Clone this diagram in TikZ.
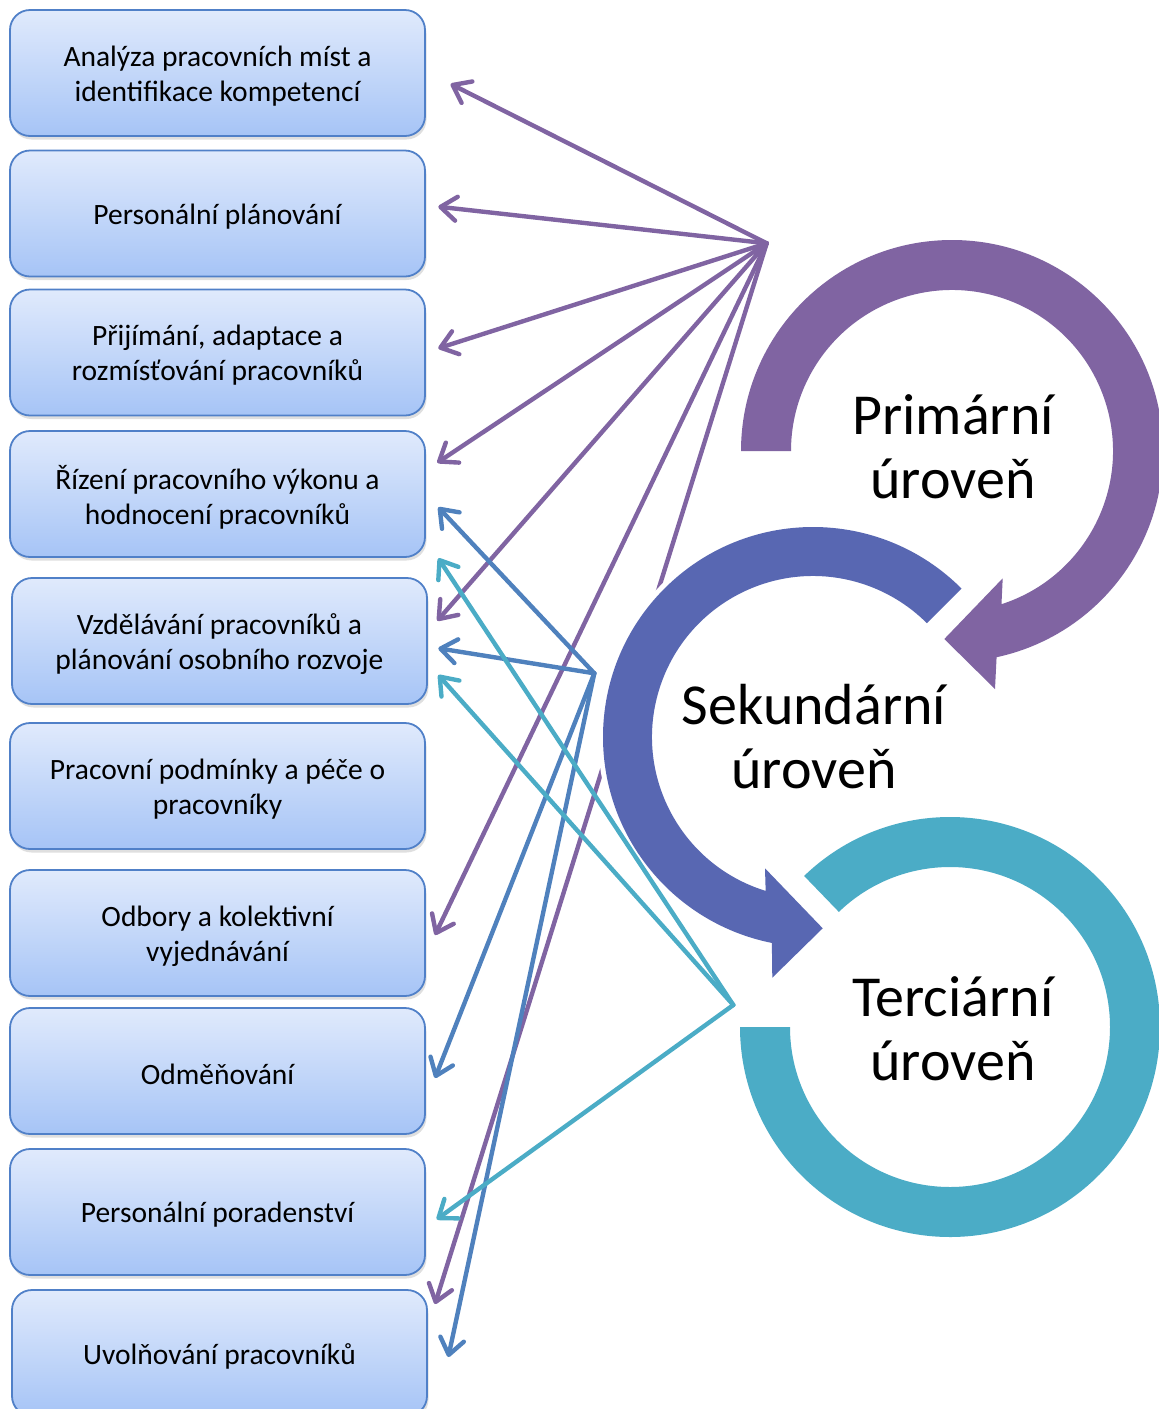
\documentclass[tikz,border=0pt]{standalone}
\usepackage{fontspec}
\setmainfont{Carlito}
\usetikzlibrary{arrows.meta,shadows,calc}
\definecolor{purp}{RGB}{128,100,162}
\definecolor{blu}{RGB}{79,129,189}
\definecolor{cya}{RGB}{75,172,198}
\definecolor{ringblue}{RGB}{88,103,178}
\definecolor{boxtop}{RGB}{224,234,252}
\definecolor{boxbot}{RGB}{166,196,246}
\definecolor{boxline}{RGB}{80,128,200}
\begin{document}
\begin{tikzpicture}[x=1pt,y=1pt,
  hrbox/.style={draw=boxline, line width=1.8pt, rounded corners=20pt,
    top color=boxtop, bottom color=boxbot, minimum width=415pt,
    minimum height=126pt, inner sep=0pt,
    drop shadow={shadow xshift=1.5pt, shadow yshift=-3.5pt, opacity=0.25}},
  boxtext/.style={align=center, inner sep=0pt, font=\fontsize{29.5}{35}\selectfont},
  conn/.style={line width=4.4pt, line cap=round,
    -{Straight Barb[length=16pt,width=24pt,round]}},
  ringtext/.style={align=center, font=\fontsize{58}{64}\selectfont},
  halo/.style={preaction={draw=white, line width=10pt}}
]
\useasboundingbox (0,0) rectangle (1159,-1409);
\clip (0,0) rectangle (1159,-1409);

% boxes
\node[hrbox] (b1) at (217.5,-73) {};
\node[hrbox] (b2) at (217.5,-213.5) {};
\node[hrbox] (b3) at (217.5,-352.5) {};
\node[hrbox] (b4) at (217.5,-494) {};
\node[hrbox] (b5) at (219.5,-641) {};
\node[hrbox] (b6) at (217.5,-786) {};
\node[hrbox] (b7) at (217.5,-933) {};
\node[hrbox] (b8) at (217.5,-1071) {};
\node[hrbox] (b9) at (217.5,-1212) {};
\node[hrbox] (b10) at (219.5,-1353) {};

\node[boxtext] (l1) at ([yshift=-3pt]b1.center) {Analýza pracovních míst a\\identifikace kompetencí};
\node[boxtext] (l2) at ([yshift=-3pt]b2.center) {Personální plánování};
\node[boxtext] (l3) at ([yshift=-3pt]b3.center) {Přijímání, adaptace a\\rozmísťování pracovníků};
\node[boxtext] (l4) at ([yshift=-3pt]b4.center) {Řízení pracovního výkonu a\\hodnocení pracovníků};
\node[boxtext] (l5) at ([yshift=-3pt]b5.center) {Vzdělávání pracovníků a\\plánování osobního rozvoje};
\node[boxtext] (l6) at ([yshift=-3pt]b6.center) {Pracovní podmínky a péče o\\pracovníky};
\node[boxtext] (l7) at ([yshift=-3pt]b7.center) {Odbory a kolektivní\\vyjednávání};
\node[boxtext] (l8) at ([yshift=-3pt]b8.center) {Odměňování};
\node[boxtext] (l9) at ([yshift=-3pt]b9.center) {Personální poradenství};
\node[boxtext] (l10) at ([yshift=-3pt]b10.center) {Uvolňování pracovníků};

% hubs
\coordinate (hP) at (766.7,-243.3);
\coordinate (hB) at (594.3,-673.3);
\coordinate (hC) at (733.3,-1005);

% arrow tips
\coordinate (p1) at (450.7,-84);
\coordinate (p2) at (438.3,-206.7);
\coordinate (p3) at (438.3,-348.3);
\coordinate (p4) at (437.3,-462.7);
\coordinate (p5) at (437.3,-620.7);
\coordinate (p7) at (435,-935);
\coordinate (p10) at (435,-1304);
\coordinate (q4) at (438.3,-507.3);
\coordinate (q5) at (438.3,-648.3);
\coordinate (q8) at (435,-1078);
\coordinate (q10) at (448.3,-1357);
\coordinate (r4) at (438.3,-558.3);
\coordinate (r5) at (438.3,-675);
\coordinate (r9) at (436.7,-1219.3);

% purple connectors
\foreach \t in {p1,p2,p3,p4,p5,p7,p10}
  \draw[conn, purp] (hP) -- (\t);

% rings
\coordinate (cP) at (952,-451);
\coordinate (cB) at (813,-737);
\coordinate (cC) at (950,-1027);

\fill[ringblue, halo] ($(cB)+(45:210)$) arc[start angle=45, end angle=258.7, radius=210]
  -- (772.3,-977.7) -- (822.7,-928.3) -- (765,-868.3)
  -- ($(cB)+(252.9:161)$) arc[start angle=252.9, end angle=45, radius=161] -- cycle;
\fill[purp, halo] ($(cP)+(180:211)$) arc[start angle=180, end angle=-77.8, radius=211]
  -- (995,-689) -- (944.3,-639) -- (1002.7,-578.3)
  -- ($(cP)+(-72.1:161)$) arc[start angle=-72.1, end angle=180, radius=161] -- cycle;
\fill[cya, halo] ($(cC)+(134:210)$) arc[start angle=134, end angle=-180, radius=210]
  -- ($(cC)+(-180:160)$) arc[start angle=-180, end angle=134, radius=160] -- cycle;

% blue connectors
\foreach \t in {q4,q5,q8,q10}
  \draw[conn, blu] (hB) -- (\t);
% cyan connectors
\foreach \t in {r4,r5,r9}
  \draw[conn, cya] (hC) -- (\t);

% ring labels
\node[ringtext] (tP) at (953,-447) {Primární\\úroveň};
\node[ringtext] (tB) at (814,-737) {Sekundární\\úroveň};
\node[ringtext] (tC) at (953,-1029) {Terciární\\úroveň};
\end{tikzpicture}
\end{document}
